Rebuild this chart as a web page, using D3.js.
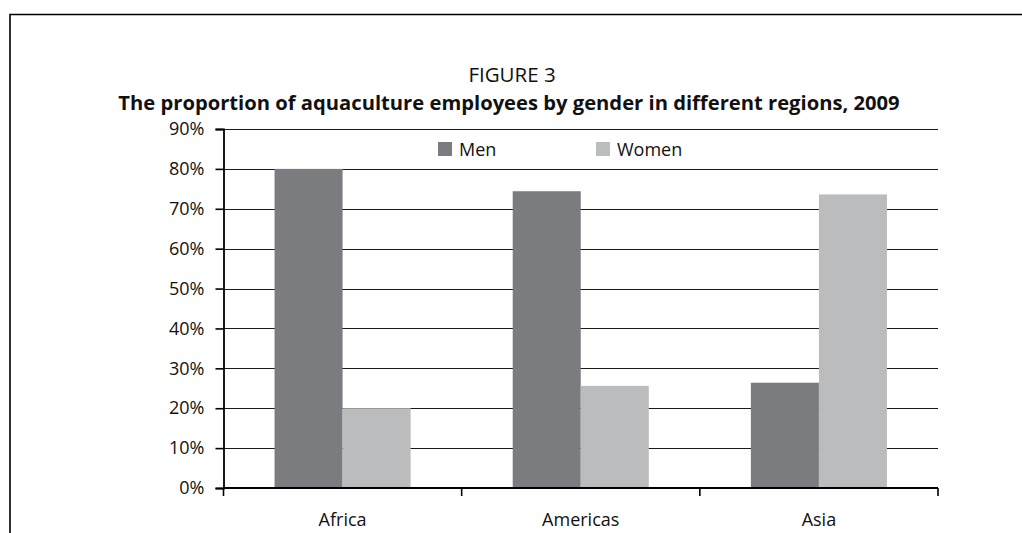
<!DOCTYPE html>
<html>
<head>
<meta charset="utf-8">
<script src="https://cdn.jsdelivr.net/npm/d3@7"></script>
<style>
  html, body { margin: 0; padding: 0; background: #fff; }
  svg { display: block; font-family: "Open Sans", "Noto Sans", sans-serif; }
</style>
</head>
<body>
<svg id="chart" width="1022" height="533"></svg>
<script>
// Share of aquaculture employees by gender, 2009
const regions = ["Africa", "Americas", "Asia"];
const series = ["Men", "Women"];
const menShare = [80.0, 74.4, 26.4];
const womenShare = [20.0, 25.6, 73.6];
const yTicks = [0, 10, 20, 30, 40, 50, 60, 70, 80, 90];
const colors = ["#7b7c80", "#bbbcbe"];

const rows = regions.map((r, i) => ({ region: r, values: [menShare[i], womenShare[i]] }));

const svg = d3.select("#chart");
const labelSize = 18;

// page frame (top and left rule)
svg.append("path")
  .attr("d", "M10,533 V14.5 H1022")
  .attr("fill", "none")
  .attr("stroke", "#000")
  .attr("stroke-width", 1.6);

// titles
svg.append("text")
  .attr("x", 512).attr("y", 82)
  .attr("text-anchor", "middle")
  .attr("font-size", 20.5)
  .attr("fill", "#111")
  .text("FIGURE 3");
svg.append("text")
  .attr("x", 509).attr("y", 110)
  .attr("text-anchor", "middle")
  .attr("font-size", 20.2)
  .attr("font-weight", "bold")
  .attr("fill", "#111")
  .text("The proportion of aquaculture employees by gender in different regions, 2009");

const plotLeft = 223.5, plotRight = 938, plotTop = 129, plotBottom = 488;

const x0 = d3.scaleBand().domain(regions).range([plotLeft, plotRight]).padding(0);
const x1 = d3.scaleBand().domain(series).range([0, x0.bandwidth()])
  .paddingInner(0).paddingOuter(0.75);
const y = d3.scaleLinear().domain([0, 90]).range([plotBottom, plotTop]);

// gridlines
svg.append("g")
  .selectAll("line")
  .data(yTicks.filter(t => t > 0))
  .join("line")
  .attr("x1", plotLeft).attr("x2", plotRight)
  .attr("y1", d => Math.round(y(d)) + 0.5).attr("y2", d => Math.round(y(d)) + 0.5)
  .attr("stroke", "#1a1a1a")
  .attr("stroke-width", 1.1);

// bars
svg.append("g")
  .selectAll("g")
  .data(rows)
  .join("g")
  .attr("transform", d => `translate(${x0(d.region)},0)`)
  .selectAll("rect")
  .data(d => d.values.map((v, i) => ({ key: series[i], value: v, i })))
  .join("rect")
  .attr("x", d => x1(d.key))
  .attr("width", x1.bandwidth())
  .attr("y", d => y(d.value))
  .attr("height", d => y(0) - y(d.value))
  .attr("fill", d => colors[d.i]);

// y axis
const yAxis = d3.axisLeft(y)
  .tickValues(yTicks)
  .tickSize(8)
  .tickPadding(11)
  .tickFormat(d => d + "%");
const gy = svg.append("g")
  .attr("transform", `translate(${plotLeft},0)`)
  .call(yAxis);
gy.select(".domain").attr("stroke", "#000").attr("stroke-width", 1.8);
gy.selectAll(".tick line").attr("stroke", "#000").attr("stroke-width", 1.6);
gy.selectAll(".tick text")
  .attr("font-size", labelSize)
  .attr("fill", "#111")
  .attr("font-family", "'Open Sans', 'Noto Sans', sans-serif");

// x axis with ticks at category boundaries
const gx = svg.append("g")
  .attr("transform", `translate(0,${plotBottom})`);
gx.append("line")
  .attr("x1", plotLeft).attr("x2", plotRight)
  .attr("stroke", "#000").attr("stroke-width", 1.8);
const bounds = regions.map(r => x0(r)).concat([x0(regions[regions.length - 1]) + x0.bandwidth()]);
gx.selectAll("line.tk")
  .data(bounds)
  .join("line")
  .attr("class", "tk")
  .attr("x1", d => d).attr("x2", d => d)
  .attr("y1", 0).attr("y2", 8)
  .attr("stroke", "#000").attr("stroke-width", 1.6);
gx.selectAll("text")
  .data(regions)
  .join("text")
  .attr("x", d => x0(d) + x0.bandwidth() / 2)
  .attr("y", 38)
  .attr("text-anchor", "middle")
  .attr("font-size", labelSize)
  .attr("fill", "#111")
  .text(d => d);

// legend
const legendX = [438, 596];
const legend = svg.append("g")
  .selectAll("g")
  .data(series)
  .join("g")
  .attr("transform", (d, i) => `translate(${legendX[i]},142)`);
legend.append("rect")
  .attr("width", 14).attr("height", 14)
  .attr("fill", (d, i) => colors[i]);
legend.append("text")
  .attr("x", 21).attr("y", 14)
  .attr("font-size", labelSize)
  .attr("fill", "#111")
  .text(d => d);
</script>
</body>
</html>
